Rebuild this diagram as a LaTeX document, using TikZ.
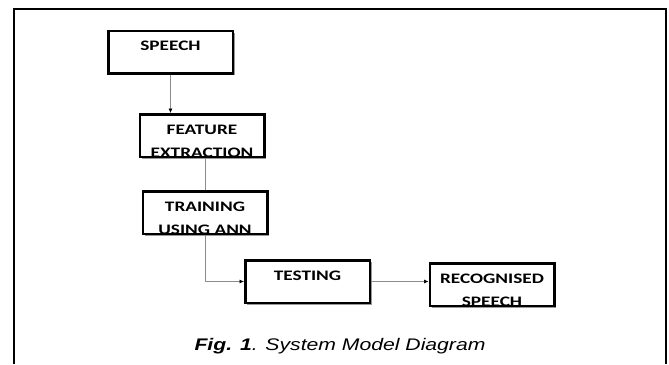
\documentclass[tikz,border=0pt]{standalone}
\usepackage{fontspec}
\newfontfamily\boxfont{Carlito}[FakeStretch=1.33]
\newfontfamily\capfont{Liberation Sans}[FakeStretch=1.26]
\usetikzlibrary{arrows.meta, shadows}

\begin{document}
\begin{tikzpicture}[
  x=1pt, y=1pt,
  lbl/.style={inner sep=0pt, anchor=base, font=\boxfont\bfseries\fontsize{14.5}{23}\selectfont},
  blk/.style={draw, line width=2.5pt, fill=white, minimum width=124.5pt, minimum height=42.5pt,
    drop shadow={shadow xshift=2pt, shadow yshift=-2pt, fill=black!40, opacity=1},
    path picture={\node[lbl] at ([yshift=-19.75pt]path picture bounding box.north)
      {\begin{tabular}[t]{@{}c@{}}#1\end{tabular}};}},
  conn/.style={draw=black!45, line width=0.7pt},
  >={Latex[length=4.5pt, width=4pt, color=black]}
]
\useasboundingbox (0,0) rectangle (669,-364);

% frame, open at the bottom
\draw[line width=2pt] (14,-364) -- (14,-9) -- (666,-9) -- (666,-364);

\node[blk={SPEECH}]               (speech) at (170.5,-52)  {};
\node[blk={FEATURE\\EXTRACTION}]  (feat)   at (202,-135.5) {};
\node[blk={TRAINING\\USING ANN}]  (train)  at (205,-212.5) {};
\node[blk={TESTING}]              (test)   at (307.5,-281.5) {};
\node[blk={RECOGNISED\\SPEECH}]   (recog)  at (492,-284.7) {};

\draw[conn, ->] (speech.south) -- (speech.south |- feat.north);
\draw[conn]     (train.north)  -- (train.north |- feat.south);
\draw[conn, ->] (train.south)  |- (test.west);
\draw[conn, ->] (test.east)    -- (test.east -| recog.west);

\node[anchor=base, font=\capfont\itshape\fontsize{16.8}{20}\selectfont] (caption) at (340,-350)
  {\textbf{Fig. 1}. System Model Diagram};
\end{tikzpicture}
\end{document}
